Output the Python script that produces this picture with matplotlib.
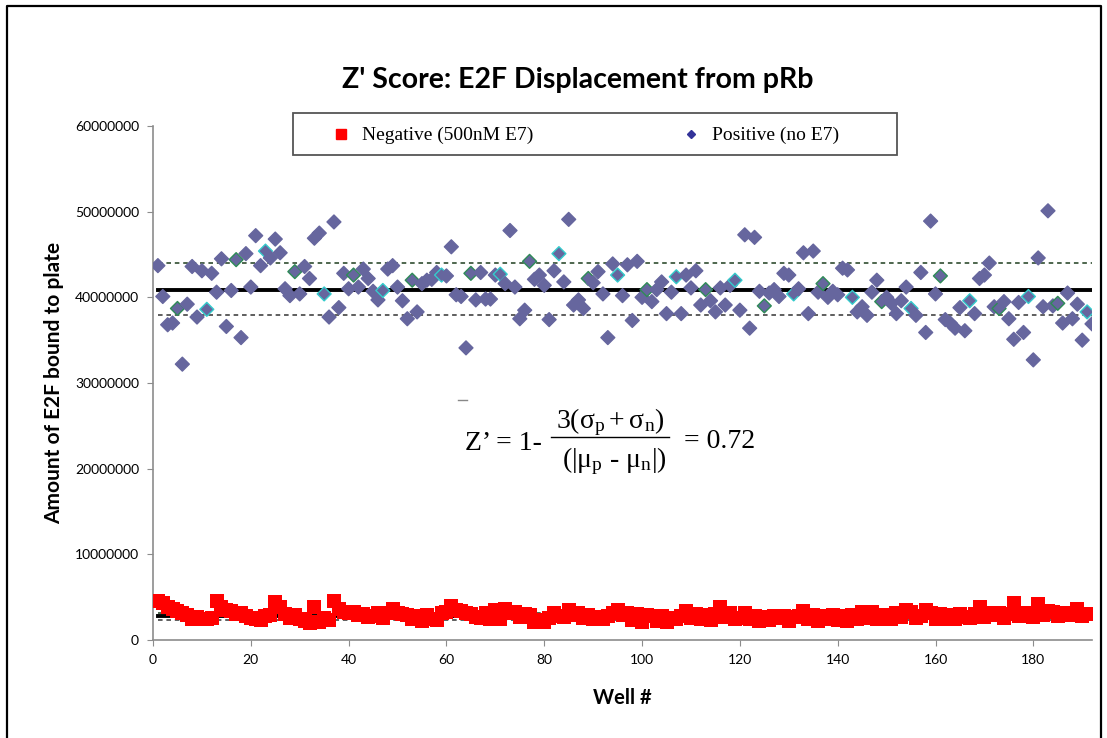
import matplotlib
matplotlib.use("Agg")
import matplotlib.pyplot as plt
import numpy as np
from matplotlib.lines import Line2D
from matplotlib.patches import Rectangle

# Positive (no E7), millions, wells 1..192
positive = [
    43.7, 40.1, 36.8, 37.0, 38.7, 32.2, 39.2, 43.6, 37.7, 43.1,
    38.6, 42.8, 40.6, 44.5, 36.6, 40.8, 44.4, 35.3, 45.1, 41.2,
    47.2, 43.7, 45.4, 44.6, 46.8, 45.2, 41.0, 40.2, 43.0, 40.4,
    43.6, 42.2, 46.9, 47.5, 40.4, 37.7, 48.8, 38.8, 42.8, 41.0,
    42.6, 41.2, 43.3, 42.2, 40.7, 39.7, 40.8, 43.3, 43.7, 41.2,
    39.6, 37.5, 42.0, 38.3, 41.6, 42.0, 42.1, 42.9, 42.6, 42.5,
    45.9, 40.3, 40.1, 34.1, 42.8, 39.7, 42.9, 39.8, 39.8, 42.6,
    42.7, 41.6, 47.8, 41.2, 37.5, 38.5, 44.2, 42.1, 42.6, 41.4,
    37.4, 43.1, 45.1, 41.8, 49.1, 39.1, 39.7, 38.7, 42.2, 41.7,
    43.0, 40.4, 35.3, 43.9, 42.6, 40.2, 43.8, 37.3, 44.2,
    40.0, 40.9, 39.5, 40.9, 41.8, 38.1, 40.6, 42.4, 38.1, 42.6,
    41.1, 43.1, 39.1, 40.9, 39.6, 38.3, 41.1, 39.1, 41.4, 42.0,
    38.5, 47.3, 36.4, 47.0, 40.7, 39.0, 40.5, 40.9, 40.1, 42.8,
    42.6, 40.4, 41.0, 45.2, 38.1, 45.4, 40.6, 41.6, 40.0, 40.7,
    40.3, 43.4, 43.2, 40.0, 38.3, 38.9, 37.9, 40.6, 42.0, 39.5,
    40.0, 39.3, 38.1, 39.6, 41.2, 38.7, 37.9, 42.9, 35.9, 48.9,
    40.4, 42.5, 37.4, 37.0, 36.4, 38.8, 36.1, 39.6, 38.1, 42.2,
    42.6, 44.0, 38.9, 38.7, 39.5, 37.5, 35.1, 39.4, 35.9, 40.1,
    32.7, 44.6, 38.9, 50.1, 39.0, 39.3, 37.0, 40.5, 37.5, 39.2,
    35.0, 38.3, 36.9,
]

# Negative (500nM E7), millions
negative = [
    4.6, 4.3, 3.9, 3.6, 3.4, 3.1, 2.9, 2.5, 2.7, 2.4,
    2.5, 2.6, 4.6, 3.9, 3.5, 3.4, 3.0, 3.1, 2.8, 2.6,
    2.4, 2.3, 2.8, 2.9, 4.4, 3.9, 3.0, 2.6, 2.9, 2.4,
    2.2, 2.0, 3.8, 2.1, 2.6, 2.3, 4.5, 3.6, 3.3, 3.1,
    3.3, 2.9, 3.0, 2.7, 2.8, 3.2, 2.6, 3.2, 3.6, 3.2,
    3.0, 2.9, 2.4, 2.8, 2.2, 2.9, 2.5, 2.3, 3.2, 3.3,
    4.0, 3.5, 3.4, 3.1, 3.0, 2.7, 2.6, 3.1, 2.5, 3.5,
    2.4, 3.6, 3.1, 3.3, 2.7, 3.0, 2.9, 2.1, 2.3, 2.1,
    2.6, 3.2, 2.8, 2.7, 3.5, 2.9, 3.1, 2.6, 2.9, 2.4,
    2.7, 2.5, 2.8, 3.1, 3.5, 2.9, 3.2, 2.3, 3.0, 2.1,
    2.9, 2.8, 2.2, 2.8, 2.1, 2.6, 2.4, 2.8, 3.4, 2.6,
    3.0, 2.5, 2.9, 2.3, 3.0, 3.9, 2.7, 3.1, 2.4, 2.6,
    3.2, 2.5, 2.8, 2.2, 2.7, 2.3, 2.8, 2.6, 2.8, 2.2,
    2.7, 2.8, 3.4, 2.5, 2.9, 2.2, 2.8, 2.4, 2.9, 2.3,
    2.8, 2.2, 2.9, 2.5, 3.3, 2.6, 3.3, 2.4, 2.9, 2.8,
    2.5, 3.2, 2.7, 3.5, 3.3, 2.6, 2.8, 3.5, 3.2, 2.5,
    3.0, 2.4, 2.9, 2.5, 3.0, 2.7, 2.6, 3.0, 3.85, 2.7,
    3.2, 2.9, 3.1, 2.6, 3.0, 4.3, 2.8, 3.2, 3.0, 2.7,
    4.2, 2.9, 3.4, 3.3, 2.8, 3.2, 3.1, 2.9, 3.6, 2.8,
    3.0, 3.0,
]

# mean and +/- sd lines (millions)
pos_mean, pos_hi, pos_lo = 40.8, 44.0, 37.9
neg_mean, neg_hi, neg_lo = 2.8, 3.2, 2.3

xticks = [0, 20, 40, 60, 80, 100, 120, 140, 160, 180]
yticks = [0, 10000000, 20000000, 30000000, 40000000, 50000000, 60000000]
legend_labels = ["Negative (500nM E7)", "Positive (no E7)"]

sans = ["Lato", "DejaVu Sans"]
serif = ["Liberation Serif", "DejaVu Serif"]

W, H = 1107, 738


def fx(px):
    return px / W


def fy(py):
    return 1 - py / H


pos = np.array(positive) * 1e6
neg = np.array(negative) * 1e6
wp = np.arange(1, len(pos) + 1)
wn = np.arange(1, len(neg) + 1)

fig = plt.figure(figsize=(11.07, 7.38), dpi=100)
ax = fig.add_axes([fx(153), fy(640), (1092 - 153) / W, (640 - 126) / H])

# reference lines
x0, x1 = 1, len(pos)
dash = (0, (3, 2.5))
for m, hi, lo in [(pos_mean, pos_hi, pos_lo), (neg_mean, neg_hi, neg_lo)]:
    ax.plot([x0, x1], [m * 1e6] * 2, color="black", lw=2.8, zorder=2)
    ax.plot([x0, x1], [hi * 1e6] * 2, color="#1e3d1e", lw=1.1, ls=dash, zorder=2)
    ax.plot([x0, x1], [lo * 1e6] * 2, color="#333333", lw=1.1, ls=dash, zorder=2)

# some diamonds carry a coloured outline (overlapping plate series)
edges = []
for i in range(len(pos)):
    if i % 12 == 4:
        edges.append("#2e8b57")
    elif i % 12 == 10:
        edges.append("#33cccc")
    else:
        edges.append("#66669e")

ax.scatter(wn, neg, marker="s", s=95, color="#ff0000", linewidths=0, zorder=3)
ax.scatter(wp, pos, marker="D", s=50, facecolor="#66669e", edgecolors=edges,
           linewidths=1.0, zorder=4)

ax.set_xlim(0, 192)
ax.set_ylim(0, 60000000)
ax.set_xticks(xticks)
ax.set_yticks(yticks)
ax.set_yticklabels([str(v) for v in yticks])
for s in ["top", "right"]:
    ax.spines[s].set_visible(False)
for s in ["left", "bottom"]:
    ax.spines[s].set_color("#8c8c8c")
    ax.spines[s].set_linewidth(1.2)
ax.tick_params(length=4, color="#8c8c8c", labelsize=10, pad=6)
for lab in ax.get_xticklabels() + ax.get_yticklabels():
    lab.set_family(sans)

ax.set_xlabel("Well #", family=sans, fontsize=14.5, fontweight="bold", labelpad=16)
ax.set_ylabel("Amount of E2F bound to plate", family=sans, fontsize=15,
              fontweight="bold", labelpad=8)
fig.text(fx(578), fy(80), "Z' Score: E2F Displacement from pRb",
         family=sans, fontsize=20.5, fontweight="bold", ha="center", va="center")

# legend box drawn by hand to match the wide Excel layout
fig.add_artist(Rectangle((fx(293), fy(155)), fx(897) - fx(293), fy(113) - fy(155),
                         transform=fig.transFigure, fill=False,
                         edgecolor="#555555", lw=1.3, zorder=6))
fig.add_artist(Line2D([fx(341)], [fy(134)], marker="s", color="#ff0000",
                      markersize=6.5, ls="none"))
fig.add_artist(Line2D([fx(691)], [fy(134)], marker="D", color="#333399",
                      markersize=4, ls="none"))
fig.text(fx(362), fy(135), legend_labels[0], family=serif, fontsize=14,
         ha="left", va="center")
fig.text(fx(712), fy(135), legend_labels[1], family=serif, fontsize=14,
         ha="left", va="center")

# Z' formula
plt.rcParams["mathtext.fontset"] = "custom"
plt.rcParams["mathtext.rm"] = "Liberation Serif"
plt.rcParams["mathtext.it"] = "Liberation Serif"
fs = 20
fig.text(fx(465), fy(443), "Z\u2019 = 1-", family=serif, fontsize=fs,
         ha="left", va="center")
fig.text(fx(610), fy(422), r"$\mathrm{3(\sigma_p + \sigma_n)}$", fontsize=fs,
         ha="center", va="center")
fig.text(fx(614), fy(461), r"$\mathrm{(|\mu_p\ \text{-}\ \mu_n|)}$", fontsize=fs,
         ha="center", va="center")
fig.add_artist(Line2D([fx(551), fx(669)], [fy(437)] * 2, color="black", lw=1.0))
fig.text(fx(684), fy(442), "= 0.72", family=serif, fontsize=fs,
         ha="left", va="center")
fig.add_artist(Line2D([fx(458), fx(467)], [fy(400)] * 2, color="#888888", lw=1.0))

# outer frame
bx0, bx1, by1 = fx(7), fx(1101), fy(6)
fig.add_artist(Line2D([bx0, bx0, bx1, bx1], [0, by1, by1, 0], color="black", lw=1.6))

fig.savefig("out.png", dpi=100)
